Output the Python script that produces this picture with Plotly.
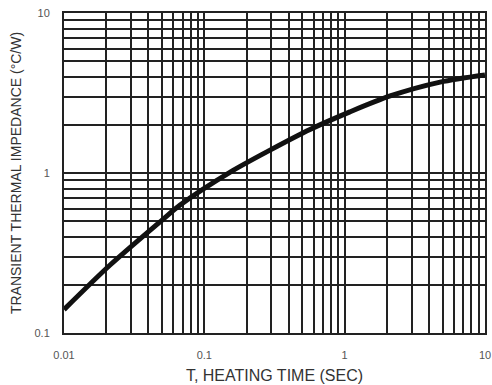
import plotly.graph_objects as go

# Curve (log-log)
heating_time = [0.01, 0.0213, 0.05, 0.0672, 0.152, 0.294, 0.566, 1.09, 2.11, 4.79, 10]
impedance = [0.14, 0.266, 0.508, 0.631, 1.01, 1.39, 1.87, 2.41, 3.03, 3.70, 4.10]

x_ticks = [0.01, 0.1, 1, 10]
x_tick_text = ["0.01", "0.1", "1", "10"]
y_ticks = [0.1, 1, 10]
y_tick_text = ["0.1", "1", "10"]

x_minor = [m * d for d in (0.01, 0.1, 1) for m in range(2, 10)]
y_minor = [m * d for d in (0.1, 1) for m in range(2, 10)]

fig = go.Figure()
fig.add_trace(go.Scatter(
    x=heating_time, y=impedance, mode="lines",
    line=dict(color="#111111", width=5, shape="spline", smoothing=0.8),
    showlegend=False,
))

grid_color = "#222222"
fig.update_xaxes(
    type="log", range=[-2, 1], automargin=False,
    tickvals=x_ticks, ticktext=x_tick_text,
    showgrid=True, gridcolor=grid_color, gridwidth=1.5,
    minor=dict(tickvals=x_minor, showgrid=True, gridcolor=grid_color, gridwidth=1.5, ticks=""),
    showline=True, linecolor=grid_color, linewidth=2, mirror=True,
    ticks="outside", ticklen=11, tickcolor="rgba(0,0,0,0)",
    tickfont=dict(family="Liberation Sans, Arial", size=11, color="#555555"),
    title=dict(text="T, HEATING TIME (SEC)",
               font=dict(family="Liberation Sans, Arial", size=16, color="#333333"),
               standoff=10),
    zeroline=False,
)
fig.update_yaxes(
    type="log", range=[-1, 1], automargin=False,
    tickvals=y_ticks, ticktext=y_tick_text,
    showgrid=True, gridcolor=grid_color, gridwidth=1.5,
    minor=dict(tickvals=y_minor, showgrid=True, gridcolor=grid_color, gridwidth=1.5, ticks=""),
    showline=True, linecolor=grid_color, linewidth=2, mirror=True,
    ticks="outside", ticklen=10, tickcolor="rgba(0,0,0,0)",
    tickfont=dict(family="Liberation Sans, Arial", size=11, color="#555555"),
    title=dict(text="TRANSIENT THERMAL IMPEDANCE (°C/W)",
               font=dict(family="Liberation Sans, Arial", size=14, color="#333333"),
               standoff=10),
    zeroline=False,
)
fig.update_layout(
    width=492, height=385,
    margin=dict(l=64, r=7, t=13, b=52),
    paper_bgcolor="white", plot_bgcolor="white",
)
fig.write_html(
    "out.html",
    config={"displayModeBar": False},
    post_script="document.body.style.margin='0';document.body.style.overflow='hidden';",
)
